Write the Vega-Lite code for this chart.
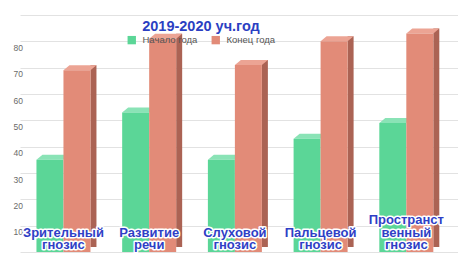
{
  "$schema": "https://vega.github.io/schema/vega-lite/v6.json",
  "width": 438,
  "height": 237,
  "autosize": "none",
  "padding": {"left": 20, "top": 15, "right": 0, "bottom": 3},
  "background": "white",
  "config": {"view": {"stroke": null}},
  "title": {
    "text": "2019-2020 уч.год",
    "color": "#2b3fc2",
    "font": "Liberation Sans",
    "fontSize": 14.5,
    "fontWeight": "bold",
    "anchor": "middle",
    "frame": "group",
    "dx": -38,
    "offset": -30,
    "baseline": "alphabetic"
  },
  "data": {
    "values": [
      {"c": "Зрительный|гнозис", "s": "Начало года", "v": 35},
      {"c": "Зрительный|гнозис", "s": "Конец года", "v": 69},
      {"c": "Развитие|речи", "s": "Начало года", "v": 53},
      {"c": "Развитие|речи", "s": "Конец года", "v": 81},
      {"c": "Слуховой|гнозис", "s": "Начало года", "v": 35},
      {"c": "Слуховой|гнозис", "s": "Конец года", "v": 71},
      {"c": "Пальцевой|гнозис", "s": "Начало года", "v": 43},
      {"c": "Пальцевой|гнозис", "s": "Конец года", "v": 80},
      {"c": "Пространст|венный|гнозис", "s": "Начало года", "v": 49},
      {"c": "Пространст|венный|гнозис", "s": "Конец года", "v": 83}
    ]
  },
  "transform": [
    {"calculate": "split(datum.c, '|')", "as": "L"},
    {"calculate": "datum.L[datum.L.length - 1]", "as": "t0"},
    {"calculate": "datum.L[datum.L.length - 2]", "as": "t1"},
    {"calculate": "datum.L.length > 2 ? datum.L[0] : ''", "as": "t2"}
  ],
  "encoding": {
    "x": {
      "field": "c",
      "type": "nominal",
      "sort": null,
      "axis": null,
      "scale": {"paddingInner": 0.37, "paddingOuter": 0.24, "align": 0.4}
    },
    "y": {
      "field": "v",
      "type": "quantitative",
      "scale": {"domain": [0, 90], "nice": false},
      "axis": {
        "title": null,
        "values": [0, 10, 20, 30, 40, 50, 60, 70, 80, 90],
        "labelExpr": "datum.value >= 10 && datum.value <= 80 ? datum.label : ''",
        "domain": false,
        "ticks": false,
        "tickSize": 0,
        "grid": true,
        "gridColor": "#e2e2e2",
        "labelAlign": "left",
        "labelPadding": 7,
        "labelBaseline": "top",
        "labelOffset": 2,
        "labelFont": "Liberation Sans",
        "labelFontSize": 8.5,
        "labelColor": "#6a6a6a"
      }
    }
  },
  "layer": [
    {
      "transform": [{"filter": "datum.s === 'Начало года'"}],
      "mark": {"type": "point", "shape": "M -13.5 0 L 13.5 0 L 19.5 -5 L -7.5 -5 Z", "size": 4, "filled": true, "opacity": 1, "strokeWidth": 0, "color": "#8ae3b6", "xOffset": -13.5}
    },
    {
      "transform": [{"filter": "datum.s === 'Начало года'"}],
      "mark": {"type": "bar", "width": {"band": 0.5}, "xOffset": -13.5},
      "encoding": {
        "color": {"field": "s", "type": "nominal", "scale": {"domain": ["Начало года", "Конец года"], "range": ["#5bd697", "#e28b78"]},
          "legend": {"orient": "none", "legendX": 107, "legendY": 20, "direction": "horizontal", "title": null, "symbolType": "square", "symbolSize": 70, "symbolStrokeWidth": 0, "labelFont": "Liberation Sans", "labelFontSize": 9.5, "labelColor": "#555", "labelOffset": 6, "columnPadding": 13}}
      }
    },
    {
      "transform": [{"filter": "datum.s === 'Конец года'"}],
      "mark": {"type": "bar", "width": 6, "xOffset": 30, "yOffset": -5, "color": "#ab6354"}
    },
    {
      "transform": [{"filter": "datum.s === 'Конец года'"}],
      "mark": {"type": "point", "shape": "M -13.5 0 L 13.5 0 L 19.5 -5 L -7.5 -5 Z", "size": 4, "filled": true, "opacity": 1, "strokeWidth": 0, "color": "#eca494", "xOffset": 13.5}
    },
    {
      "transform": [{"filter": "datum.s === 'Конец года'"}],
      "mark": {"type": "bar", "width": {"band": 0.5}, "xOffset": 13.5},
      "encoding": {
        "color": {"field": "s", "type": "nominal"}
      }
    },
    {
      "transform": [{"filter": "datum.s === 'Начало года'"}],
      "mark": {"type": "text", "baseline": "bottom", "font": "Liberation Sans", "fontWeight": "bold", "fontSize": 13, "stroke": "white", "strokeWidth": 3, "strokeJoin": "round", "fill": "white"},
      "encoding": {"y": {"datum": 0}, "text": {"field": "t0"}}
    },
    {
      "transform": [{"filter": "datum.s === 'Начало года'"}],
      "mark": {"type": "text", "baseline": "bottom", "dy": -12.5, "font": "Liberation Sans", "fontWeight": "bold", "fontSize": 13, "stroke": "white", "strokeWidth": 3, "strokeJoin": "round", "fill": "white"},
      "encoding": {"y": {"datum": 0}, "text": {"field": "t1"}}
    },
    {
      "transform": [{"filter": "datum.s === 'Начало года'"}],
      "mark": {"type": "text", "baseline": "bottom", "dy": -25, "font": "Liberation Sans", "fontWeight": "bold", "fontSize": 13, "stroke": "white", "strokeWidth": 3, "strokeJoin": "round", "fill": "white"},
      "encoding": {"y": {"datum": 0}, "text": {"field": "t2"}}
    },
    {
      "transform": [{"filter": "datum.s === 'Начало года'"}],
      "mark": {"type": "text", "baseline": "bottom", "font": "Liberation Sans", "fontWeight": "bold", "fontSize": 13, "fill": "#2f3fc6"},
      "encoding": {"y": {"datum": 0}, "text": {"field": "t0"}}
    },
    {
      "transform": [{"filter": "datum.s === 'Начало года'"}],
      "mark": {"type": "text", "baseline": "bottom", "dy": -12.5, "font": "Liberation Sans", "fontWeight": "bold", "fontSize": 13, "fill": "#2f3fc6"},
      "encoding": {"y": {"datum": 0}, "text": {"field": "t1"}}
    },
    {
      "transform": [{"filter": "datum.s === 'Начало года'"}],
      "mark": {"type": "text", "baseline": "bottom", "dy": -25, "font": "Liberation Sans", "fontWeight": "bold", "fontSize": 13, "fill": "#2f3fc6"},
      "encoding": {"y": {"datum": 0}, "text": {"field": "t2"}}
    }
  ]
}
